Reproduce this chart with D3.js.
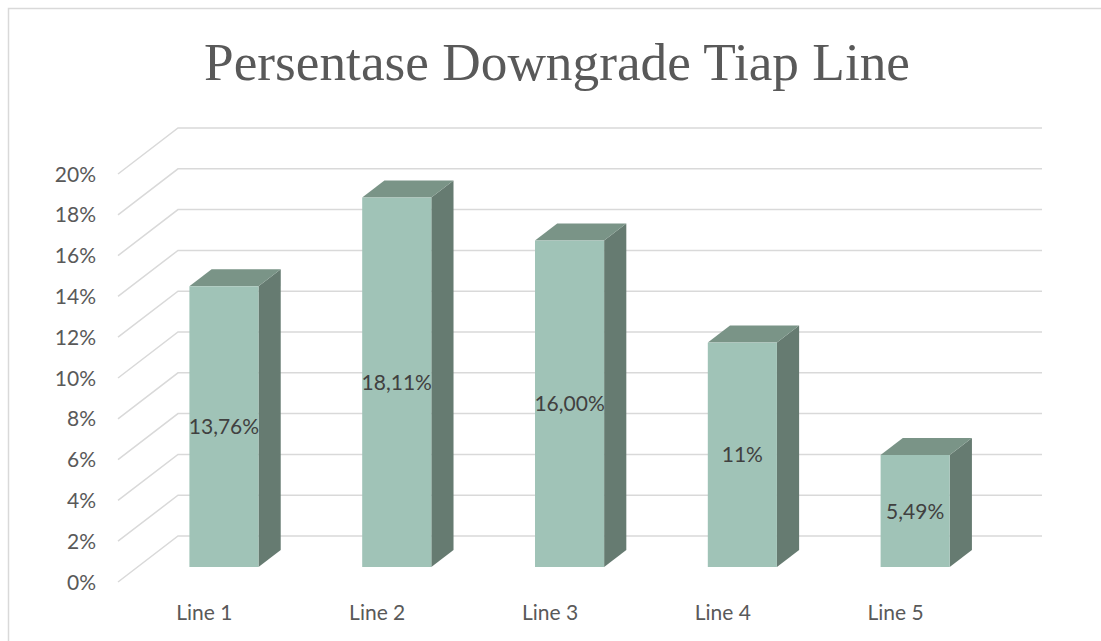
<!DOCTYPE html>
<html>
<head>
<meta charset="utf-8">
<script src="https://cdn.jsdelivr.net/npm/d3@7"></script>
<style>
  body { margin: 0; background: #fff; }
  text { font-family: Lato, "Noto Sans", sans-serif; }
</style>
</head>
<body>
<div id="vis"></div>
<script>
// data
const categories = ['Line 1', 'Line 2', 'Line 3', 'Line 4', 'Line 5'];
const values = [0.1376, 0.1811, 0.16, 0.11, 0.0549];
const valueLabels = ['13,76%', '18,11%', '16,00%', '11%', '5,49%'];
const ticks = [0, 0.02, 0.04, 0.06, 0.08, 0.1, 0.12, 0.14, 0.16, 0.18, 0.2];

const width = 1101
const height = 641

// oblique depth of the 3d box
const DEPTH_X = 60, DEPTH_Y = -46;
const BAR_D0 = 0.326, BAR_D1 = 0.696;

const svg = d3.select('#vis')
  .append('svg')
  .attr('width', width)
  .attr('height', height);

// chart area border (cropped on right / bottom)
svg.append('rect')
  .attr('x', 8.5).attr('y', 8.5)
  .attr('width', 1200).attr('height', 1200)
  .style('fill', 'none')
  .style('stroke', '#d9d9d9')
  .style('stroke-width', 1.5);

const x = d3.scaleBand()
  .domain(categories)
  .range([118, 982])
  .paddingInner(0.6)
  .paddingOuter(0.3);

const y = d3.scaleLinear()
  .domain([0, 0.2])
  .range([582, 174]);

// grid: diagonal on the side wall + horizontal on the back wall
const grid = svg.append('g');
ticks.forEach(t => {
  grid.append('path')
    .attr('d', `M118,${y(t)} L${118 + DEPTH_X},${y(t) + DEPTH_Y} L${982 + DEPTH_X},${y(t) + DEPTH_Y}`)
    .style('fill', 'none')
    .style('stroke', '#d9d9d9')
    .style('stroke-width', 1.5);
});

// y tick labels
svg.append('g').selectAll('text')
  .data(ticks)
  .enter()
  .append('text')
  .attr('x', 96)
  .attr('y', d => y(d))
  .attr('dy', '0.36em')
  .style('text-anchor', 'end')
  .style('font-size', '21px')
  .style('fill', '#595959')
  .text(d => Math.round(d * 100) + '%');

// bars
const bars = svg.append('g');
categories.forEach((c, i) => {
  const fx = x(c) + BAR_D0 * DEPTH_X;
  const fy = BAR_D0 * DEPTH_Y;
  const bw = x.bandwidth();
  const dx = (BAR_D1 - BAR_D0) * DEPTH_X;
  const dy = (BAR_D1 - BAR_D0) * DEPTH_Y;
  const top = y(values[i]) + fy;
  const bottom = y(0) + fy;

  // side
  bars.append('path')
    .attr('d', `M${fx + bw},${top} L${fx + bw + dx},${top + dy} L${fx + bw + dx},${bottom + dy} L${fx + bw},${bottom} Z`)
    .style('fill', '#667b71');
  // top
  bars.append('path')
    .attr('d', `M${fx},${top} L${fx + dx},${top + dy} L${fx + bw + dx},${top + dy} L${fx + bw},${top} Z`)
    .style('fill', '#7a9487');
  // front
  bars.append('rect')
    .attr('x', fx).attr('y', top)
    .attr('width', bw).attr('height', bottom - top)
    .style('fill', '#a0c3b7');

  bars.append('text')
    .attr('x', fx + bw / 2)
    .attr('y', (top + bottom) / 2)
    .attr('dy', '0.36em')
    .style('text-anchor', 'middle')
    .style('font-size', '21px')
    .style('fill', '#404040')
    .text(valueLabels[i]);
});

// category labels
svg.append('g').selectAll('text')
  .data(categories)
  .enter()
  .append('text')
  .attr('x', d => x(d) + x.bandwidth() / 2)
  .attr('y', 612)
  .attr('dy', '0.36em')
  .style('text-anchor', 'middle')
  .style('font-size', '21px')
  .style('fill', '#595959')
  .text(d => d);

// title
svg.append('text')
  .attr('x', 557)
  .attr('y', 80)
  .attr('textLength', 706)
  .attr('lengthAdjust', 'spacingAndGlyphs')
  .style('text-anchor', 'middle')
  .style('font-family', '"Liberation Serif", "Times New Roman", serif')
  .style('font-size', '52px')
  .style('fill', '#595959')
  .text('Persentase Downgrade Tiap Line');
</script>
</body>
</html>
